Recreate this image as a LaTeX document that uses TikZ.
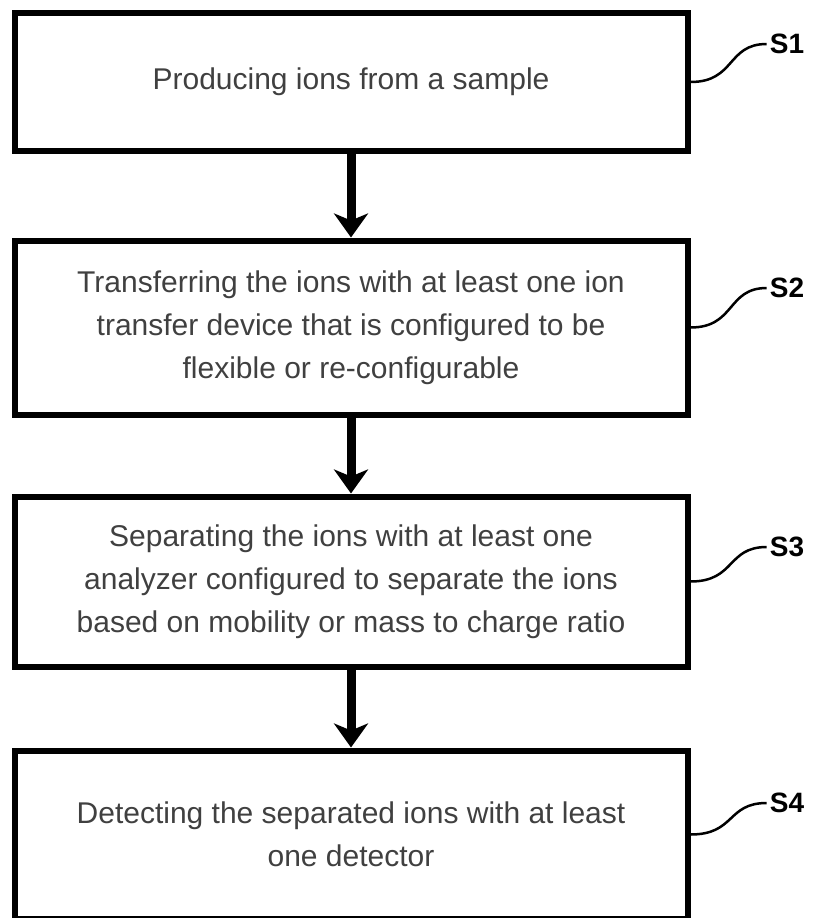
\documentclass[tikz,border=0pt]{standalone}
\usepackage{fontspec}
\setmainfont{Liberation Sans}
\usetikzlibrary{arrows.meta}

\begin{document}
\begin{tikzpicture}[x=1pt,y=-1pt,
  stepbox/.style={draw,line width=6pt,minimum width=673pt,align=center,text=black!75,
    font=\fontsize{30}{43}\selectfont},
  flow/.style={line width=9pt,-{Stealth[length=24pt,width=34pt,inset=7pt]}},
  lead/.style={line width=2.5pt},
  tag/.style={font=\fontsize{28}{30}\selectfont\bfseries,inner sep=3pt}]
\useasboundingbox (0,0) rectangle (814,918);

\node[stepbox,minimum height=138pt] (b1) at (351,82) {Producing ions from a sample};
\node[stepbox,minimum height=174pt] (b2) at (351,327.5) {Transferring the ions with at least one ion\\
  transfer device that is configured to be\\flexible or re-configurable};
\node[stepbox,minimum height=170pt] (b3) at (351,581.5) {Separating the ions with at least one\\
  analyzer configured to separate the ions\\based on mobility or mass to charge ratio};
\node[stepbox,minimum height=168pt] (b4) at (351,834.5) {Detecting the separated ions with at least\\
  one detector};

\node[tag] (s1) at (787,44) {S1};
\node[tag] (s2) at (787,288) {S2};
\node[tag] (s3) at (787,547) {S3};
\node[tag] (s4) at (787,803) {S4};

\foreach \a/\b in {b1/b2,b2/b3,b3/b4}
  \draw[flow] (\a) -- (\b);

\foreach \n in {1,...,4}
  \draw[lead] (b\n.east) .. controls +(45,0) and +(-40,0) .. (s\n.west);
\end{tikzpicture}
\end{document}
